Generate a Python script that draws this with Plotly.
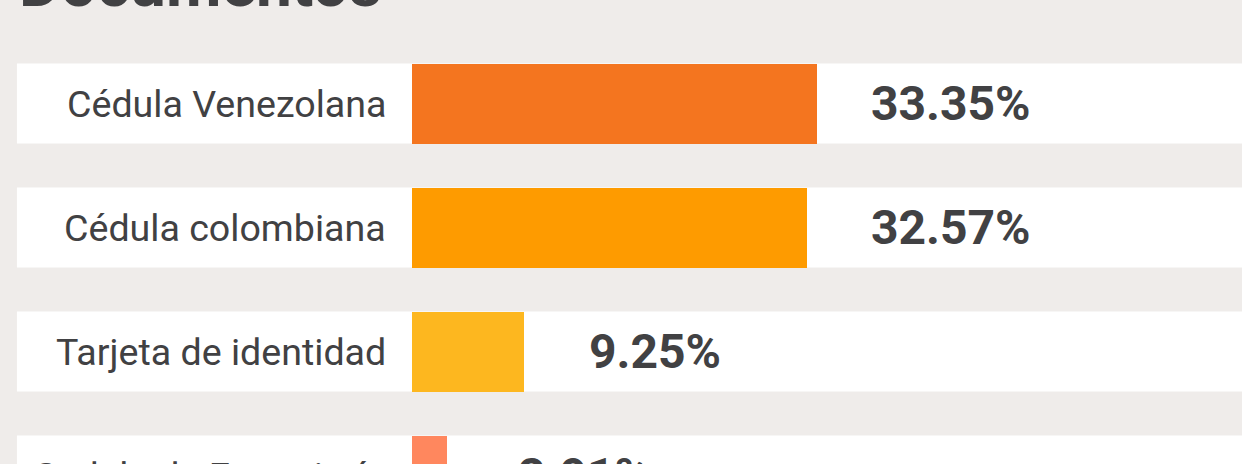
import plotly.graph_objects as go

categories = ["Cédula Venezolana", "Cédula colombiana", "Tarjeta de identidad", "Cedula de Extranjería"]
values = [33.35, 32.57, 9.25, 2.91]
colors = ["#F4751F", "#FE9B00", "#FDB71F", "#FF875E"]
title_text = "Documentos"

# style: horizontal pixel offset of each value label from its bar end
label_shift = [134, 144, 131, 137]

BG = "#EFECEA"
TXT = "#414143"
PITCH = 124  # px per category row

ypos = list(range(len(categories)))

fig = go.Figure()
fig.add_trace(go.Bar(
    y=ypos, x=values, orientation="h",
    marker=dict(color=colors, line=dict(width=0)),
    width=0.645, hoverinfo="skip",
))

shapes = []
for i in ypos:
    shapes.append(dict(type="rect", xref="paper", yref="y", x0=-0.476, x1=1.2,
                       y0=i - 0.3225, y1=i + 0.3225, fillcolor="white",
                       line=dict(width=0), layer="below"))

annotations = []
for i, (cat, v) in enumerate(zip(categories, values)):
    # anchor at the row boundary (always inside the axis range) and shift to row centre
    annotations.append(dict(x=v, y=i - 0.5, xref="x", yref="y", text=f"<b>{v:.2f}%</b>",
                            showarrow=False, xanchor="center", yanchor="middle",
                            xshift=label_shift[i], yshift=-PITCH / 2,
                            font=dict(family="Roboto", size=48, color=TXT)))
    annotations.append(dict(x=0, y=i - 0.5, xref="x", yref="y", text=cat,
                            showarrow=False, xanchor="right", yanchor="middle",
                            xshift=-24, yshift=-PITCH / 2,
                            font=dict(family="Roboto", size=37.6, color=TXT)))
annotations.append(dict(x=-0.476, y=1, xref="paper", yref="paper", text=f"<b>{title_text}</b>",
                        showarrow=False, xanchor="left", yanchor="bottom", yshift=-24,
                        font=dict(family="Roboto", size=64, color=TXT)))

fig.update_layout(
    width=1242, height=464,
    margin=dict(l=412, r=0, t=0, b=0),
    paper_bgcolor=BG, plot_bgcolor=BG,
    showlegend=False,
    shapes=shapes, annotations=annotations,
    bargap=0,
    xaxis=dict(range=[0, 68.4], showgrid=False, zeroline=False, showticklabels=False, showline=False),
    yaxis=dict(range=[2.907, -0.835], showgrid=False, zeroline=False, showline=False,
               showticklabels=False, ticks=""),
)

fig.write_html("out.html", config={"displayModeBar": False},
               post_script="document.body.style.margin='0';document.body.style.overflow='hidden';")
